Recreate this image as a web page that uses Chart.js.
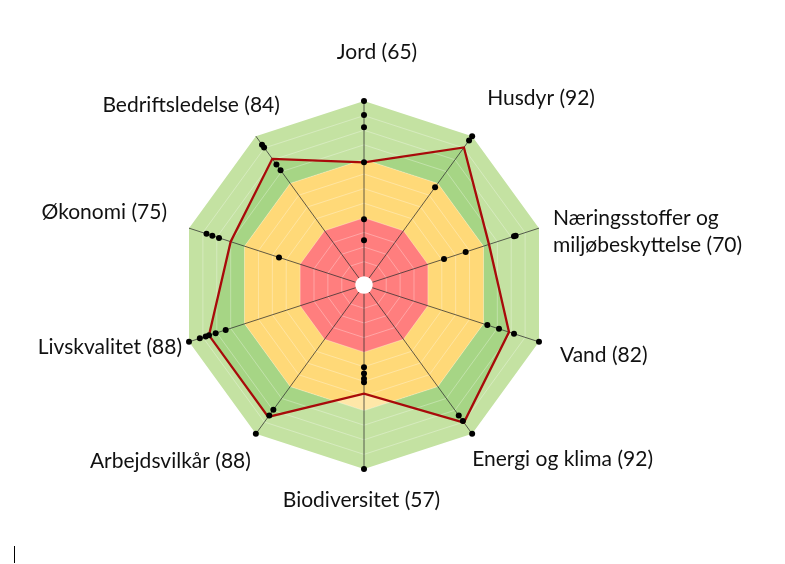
<!DOCTYPE html>
<html>
<head>
<meta charset="utf-8">
<script src="https://cdn.jsdelivr.net/npm/chart.js@4.4.1/dist/chart.umd.min.js"></script>
<style>
  html, body { margin: 0; padding: 0; background: #ffffff; }
  #wrap { position: relative; width: 785px; height: 564px; }
  #caret { position: absolute; left: 14px; top: 546px; width: 1px; height: 17px; background: #000; }
</style>
</head>
<body>
<div id="wrap">
  <canvas id="c" width="785" height="564"></canvas>
  <div id="caret"></div>
</div>
<script>
// ---------- data ----------
const themes = ['Jord', 'Husdyr', 'Næringsstoffer og\nmiljøbeskyttelse', 'Vand', 'Energi og klima',
                'Biodiversitet', 'Arbejdsvilkår', 'Livskvalitet', 'Økonomi', 'Bedriftsledelse'];
const scores = [65, 92, 70, 82, 92, 57, 88, 88, 75, 84];

// band limits (red / yellow / green)
const redLimit = 33.33;
const yellowLimit = 66.67;
const greenLimit = 100;

// faint grid lines
const gridValues = [8.33, 16.67, 25, 33.33, 41.67, 50, 58.33, 66.67, 75, 83.33, 91.67];

// individual indicator dots per theme
const dotsJord = [100, 92, 85, 65, 32.5, 20.5];
const dotsHusdyr = [100, 97, 64];
const dotsNaering = [86, 85, 56, 43];
const dotsVand = [100, 85, 76, 69];
const dotsEnergi = [100, 91, 87];
const dotsBiodiv = [100, 50.5, 48.5, 45.5, 42];
const dotsArbejd = [100, 87, 83];
const dotsLivs = [100, 93.5, 90, 88, 84, 78];
const dotsOkonomi = [89.5, 86, 82, 46];
const dotsBedrift = [94, 92, 80, 76];

// ---------- styling ----------
const labelNudge = [[13, -49], [15, -38], [14, 3.5], [21, 13], [0, 25],
                    [-2.5, 31], [-5, 27], [-7, 5], [-22, -16], [24, -31]];

const labels = themes.map((t, i) => (t + ' (' + scores[i] + ')').split('\n'));
const axisDots = [dotsJord, dotsHusdyr, dotsNaering, dotsVand, dotsEnergi,
                  dotsBiodiv, dotsArbejd, dotsLivs, dotsOkonomi, dotsBedrift];
const n = themes.length;
const constant = v => themes.map(() => v);

const band = (data, color, order) => ({
  data, backgroundColor: color, borderWidth: 0, borderColor: 'transparent',
  fill: 'start', pointRadius: 0, order
});

const datasets = [];
datasets.push(band(constant(greenLimit), '#C4E2A2', 10));    // 0 light green
datasets.push(band(scores, '#A6D585', 9));                    // 1 data fill (dark green)
datasets.push(band(constant(yellowLimit), '#FFE7A8', 8));     // 2 pale yellow
datasets.push(band(constant(yellowLimit), '#FFD978', 7));     // 3 strong yellow (clipped to data)
datasets.push(band(constant(redLimit), '#FF7E7E', 6));        // 4 red
const IDX_FILL = 1, IDX_PALE = 2, IDX_STRONG = 3;
datasets.push({                                               // 5 data line
  data: scores, fill: false, borderColor: '#A80A0A', borderWidth: 2.3,
  pointRadius: 0, order: 2, lateDraw: true
});
const maxDots = Math.max(...axisDots.map(a => a.length));
for (let k = 0; k < maxDots; k++) {
  datasets.push({
    data: axisDots.map(a => (k < a.length ? a[k] : null)),
    showLine: false, fill: false, borderWidth: 0,
    pointRadius: 3, pointBackgroundColor: '#000', pointBorderWidth: 0,
    order: 1, lateDraw: true
  });
}

function tracePolygon(ctx, pts) {
  ctx.beginPath();
  pts.forEach((p, i) => (i ? ctx.lineTo(p.x, p.y) : ctx.moveTo(p.x, p.y)));
  ctx.closePath();
}

const layeringPlugin = {
  id: 'layering',
  beforeDatasetDraw(chart, args) {
    if (chart.data.datasets[args.index].lateDraw) return false;
  },
  afterDatasetDraw(chart, args) {
    const ctx = chart.ctx;
    if (args.index === IDX_PALE) {
      const pts = chart.getDatasetMeta(IDX_FILL).data;
      ctx.save();
      tracePolygon(ctx, pts);
      ctx.clip();
    } else if (args.index === IDX_STRONG) {
      ctx.restore();
    }
  },
  afterDraw(chart) {
    const ctx = chart.ctx;
    const scale = chart.scales.r;
    // white centre
    ctx.save();
    ctx.beginPath();
    ctx.arc(scale.xCenter, scale.yCenter, scale.getDistanceFromCenterForValue(0), 0, Math.PI * 2);
    ctx.fillStyle = '#ffffff';
    ctx.fill();
    ctx.restore();
    // line + dots above spokes
    chart.data.datasets.forEach((ds, i) => {
      if (ds.lateDraw) {
        const meta = chart.getDatasetMeta(i);
        ctx.save();
        meta.controller.draw();
        ctx.restore();
      }
    });
    // category labels
    ctx.save();
    ctx.font = '21px Lato';
    ctx.fillStyle = '#111111';
    ctx.textBaseline = 'middle';
    const lh = 27;
    for (let i = 0; i < n; i++) {
      const p = scale.getPointPosition(i, scale.drawingArea);
      const dx = p.x - scale.xCenter;
      ctx.textAlign = Math.abs(dx) < 1 ? 'center' : (dx > 0 ? 'left' : 'right');
      const lines = labels[i];
      const x = p.x + labelNudge[i][0];
      const y0 = p.y + labelNudge[i][1] - (lines.length - 1) * lh / 2;
      lines.forEach((t, j) => ctx.fillText(t, x, y0 + j * lh));
    }
    ctx.restore();
  }
};

new Chart(document.getElementById('c'), {
  type: 'radar',
  data: { labels, datasets },
  options: {
    responsive: false,
    animation: false,
    events: [],
    layout: { padding: { left: 180, top: 101, right: 237, bottom: 95 } },
    elements: { line: { tension: 0 } },
    plugins: { legend: { display: false }, tooltip: { enabled: false } },
    scales: {
      r: {
        min: -5,
        max: 100,
        afterBuildTicks: (s) => { s.ticks = gridValues.map(v => ({ value: v })); },
        ticks: { display: false, z: 1 },
        grid: { color: 'rgba(255,255,255,0.3)', lineWidth: 1, z: 1 },
        angleLines: { color: 'rgba(45,45,45,0.75)', lineWidth: 1 },
        pointLabels: { display: false }
      }
    }
  },
  plugins: [layeringPlugin]
});
</script>
</body>
</html>
